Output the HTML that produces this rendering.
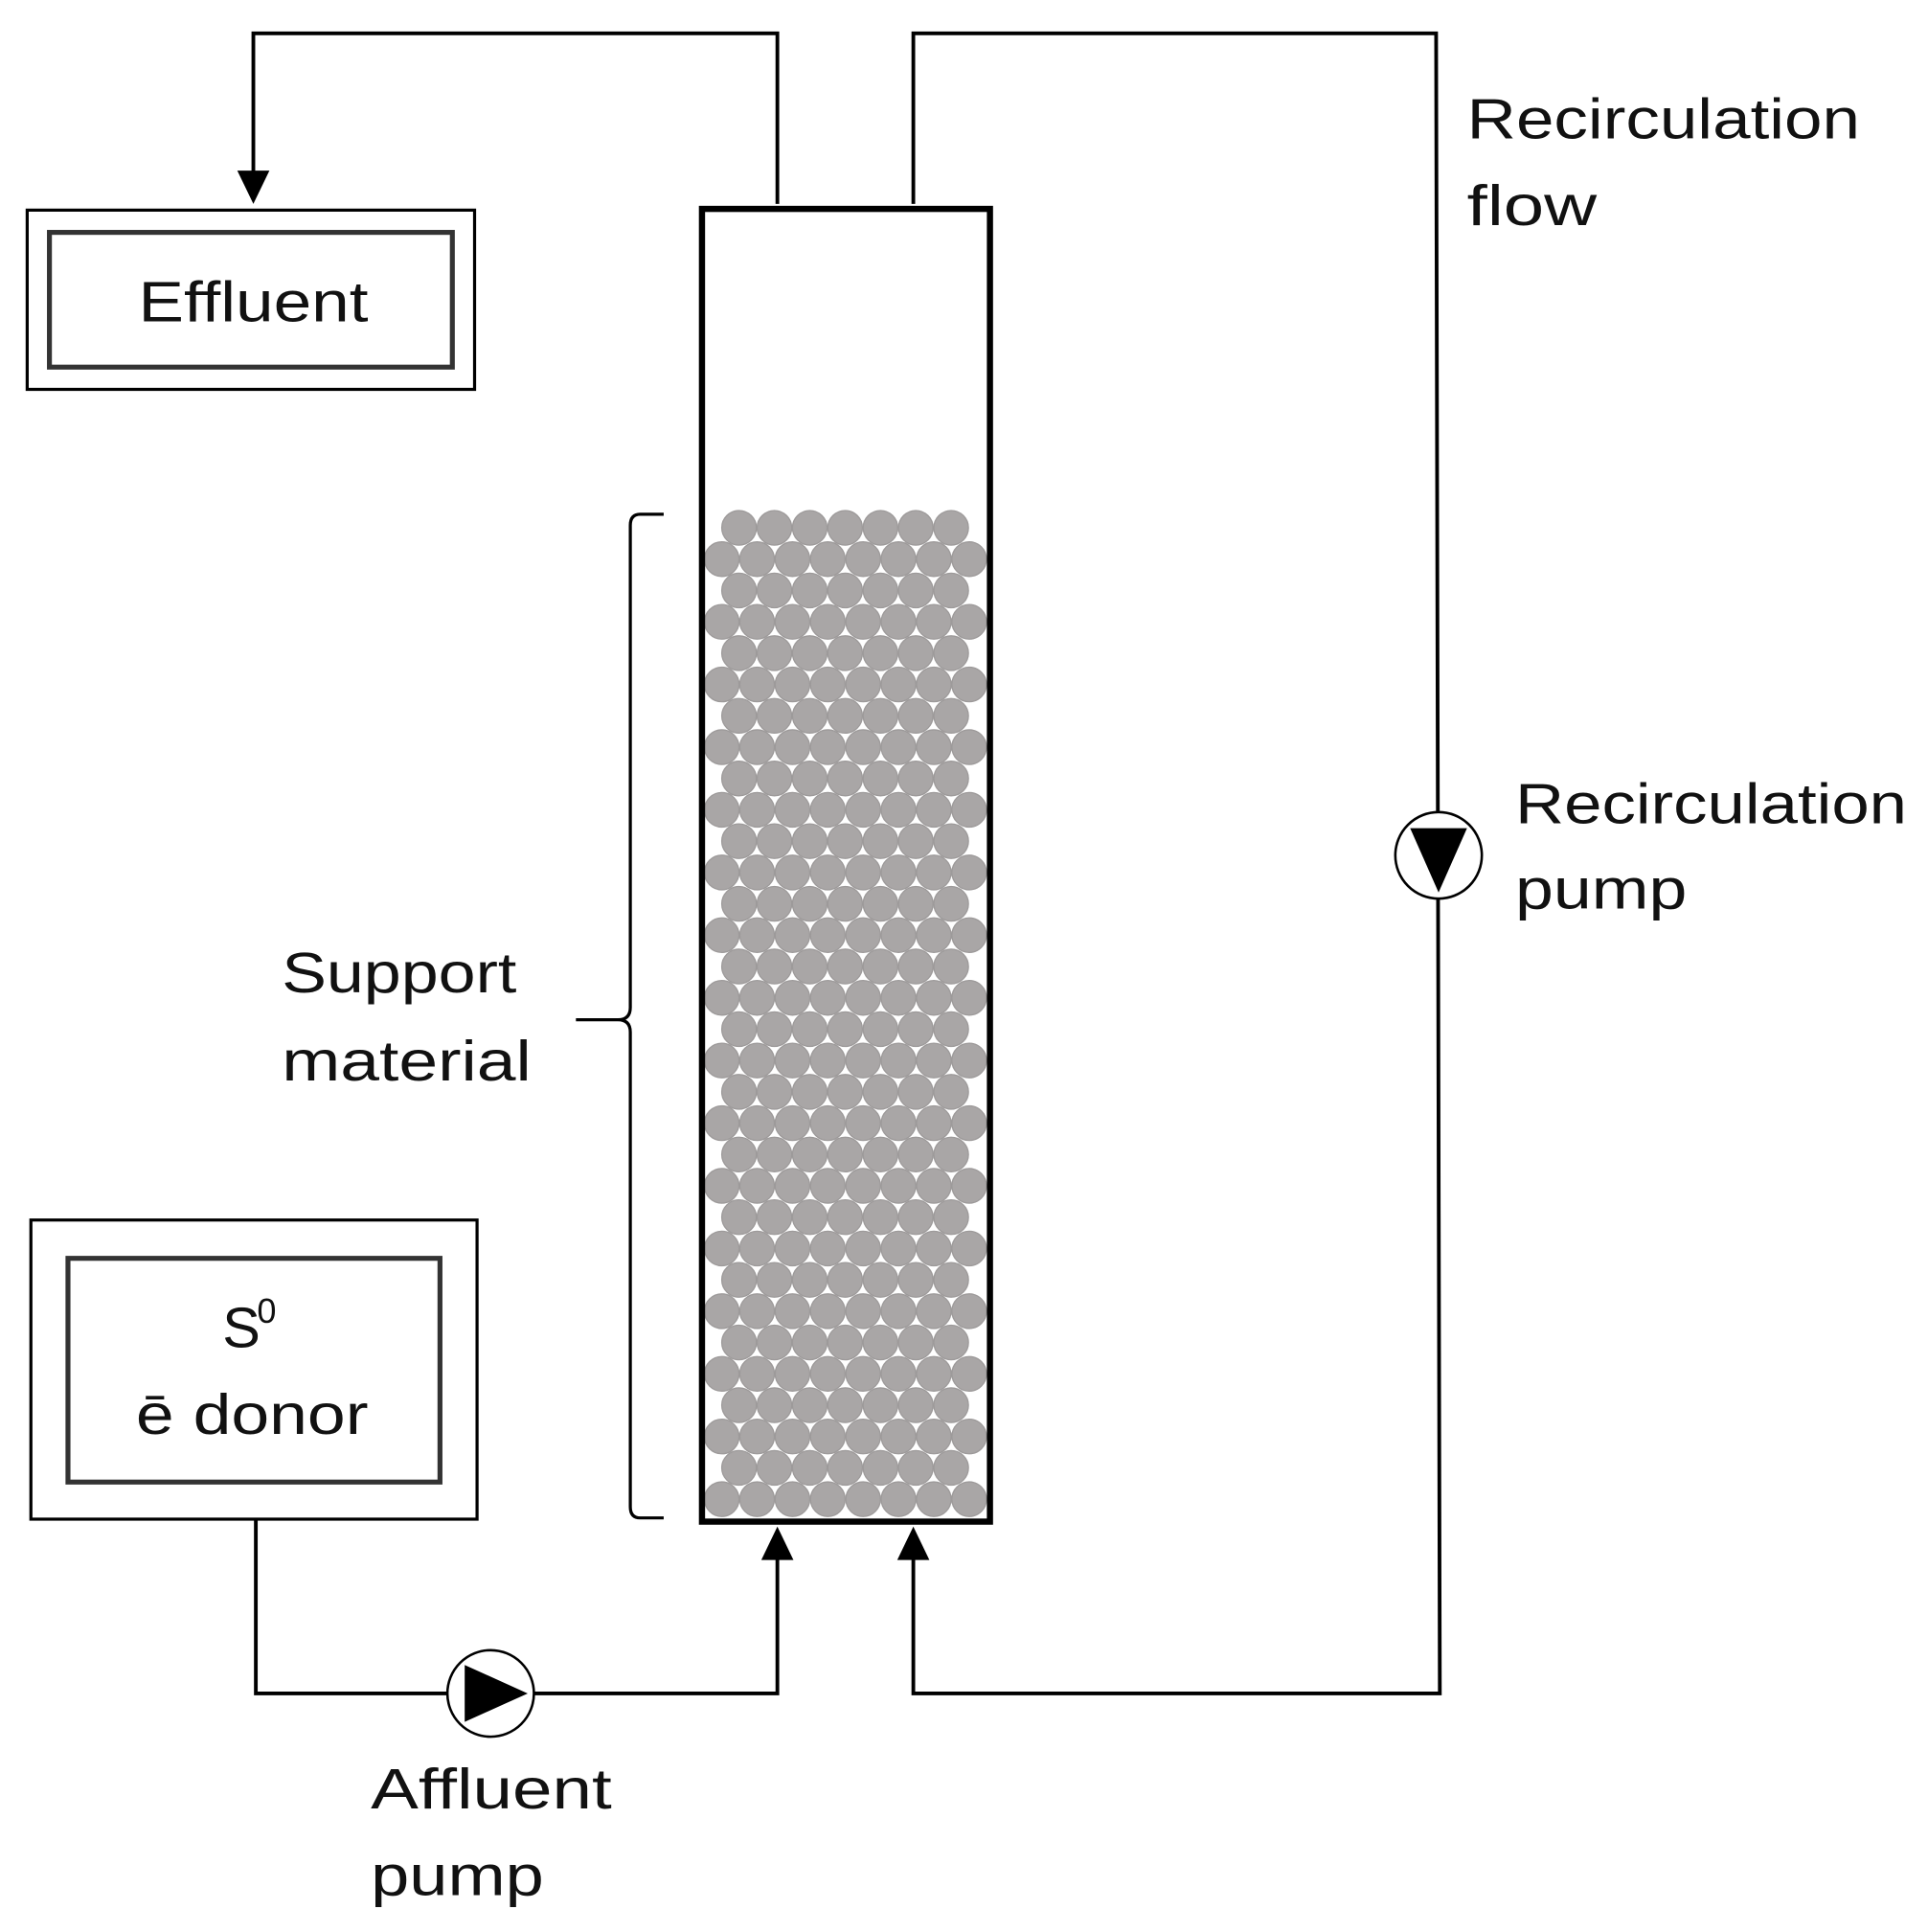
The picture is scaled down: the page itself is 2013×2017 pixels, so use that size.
<!DOCTYPE html>
<html><head><meta charset="utf-8"><style>
html,body{margin:0;padding:0;background:#fff;}
svg{display:block;}
text{font-family:"Liberation Sans",sans-serif;font-size:46px;fill:#111;}
</style></head><body>
<svg id="s" width="2013" height="2017" viewBox="0 0 1560 1563" preserveAspectRatio="none" xmlns="http://www.w3.org/2000/svg">
<g fill="none" stroke="#000" stroke-width="3">
<polyline points="629,165 629,27 205,27 205,140"/>
<polyline points="739,165 739,27 1162,27 1165,1370 739,1370 739,1258"/>
<polyline points="207,1230 207,1370 629,1370 629,1258"/>
<rect x="22" y="170" width="362" height="145" stroke-width="2.5"/>
<rect x="40" y="188" width="326" height="109" stroke-width="4" stroke="#333"/>
<rect x="25" y="987" width="361" height="242" stroke-width="2.5"/>
<rect x="55" y="1018" width="301" height="181" stroke-width="4" stroke="#333"/>
<path d="M537,416 L518,416 Q510,416 510,425 L510,815 Q510,825 500,825 L466,825 M500,825 Q510,825 510,835 L510,1219 Q510,1228 518,1228 L537,1228" stroke-width="2.5"/>
</g>
<polygon points="192,138 218,138 205,165" fill="#000"/>
<polygon points="616,1262 642,1262 629,1235" fill="#000"/>
<polygon points="726,1262 752,1262 739,1235" fill="#000"/>
<circle cx="1164" cy="692" r="35" fill="#fff" stroke="#000" stroke-width="2"/>
<polygon points="1141,670 1187,670 1164,722" fill="#000"/>
<circle cx="397" cy="1370" r="35" fill="#fff" stroke="#000" stroke-width="2"/>
<polygon points="376,1347 376,1393 427,1370" fill="#000"/>
<g id="c" fill="#a9a6a6" stroke="#9d9a9a" stroke-width="1"></g>
<rect x="568" y="169" width="233" height="1062" fill="none" stroke="#000" stroke-width="5"/>
<text x="112" y="260" textLength="186" lengthAdjust="spacingAndGlyphs">Effluent</text>
<text x="180" y="1090">S</text><text x="208" y="1070" style="font-size:28px">0</text>
<text x="110" y="1160" textLength="188" lengthAdjust="spacingAndGlyphs">ē donor</text>
<text x="1187" y="112" textLength="318" lengthAdjust="spacingAndGlyphs">Recirculation</text>
<text x="1187" y="182" textLength="105" lengthAdjust="spacingAndGlyphs">flow</text>
<text x="1226" y="666" textLength="317" lengthAdjust="spacingAndGlyphs">Recirculation</text>
<text x="1226" y="735" textLength="139" lengthAdjust="spacingAndGlyphs">pump</text>
<text x="228" y="803" textLength="190" lengthAdjust="spacingAndGlyphs">Support</text>
<text x="228" y="874" textLength="202" lengthAdjust="spacingAndGlyphs">material</text>
<text x="300" y="1463" textLength="195" lengthAdjust="spacingAndGlyphs">Affluent</text>
<text x="300" y="1533" textLength="140" lengthAdjust="spacingAndGlyphs">pump</text>
</svg>
<script>
var g=document.getElementById('c'),ns='http://www.w3.org/2000/svg';
for(var r=0;r<32;r++){var y=427+r*25.35;var odd=r%2==1;var n=odd?8:7;var x0=odd?584:598;
for(var i=0;i<n;i++){var c=document.createElementNS(ns,'circle');c.setAttribute('cx',x0+i*28.6);c.setAttribute('cy',y);c.setAttribute('r',14);g.appendChild(c);}}
</script>
</body></html>
